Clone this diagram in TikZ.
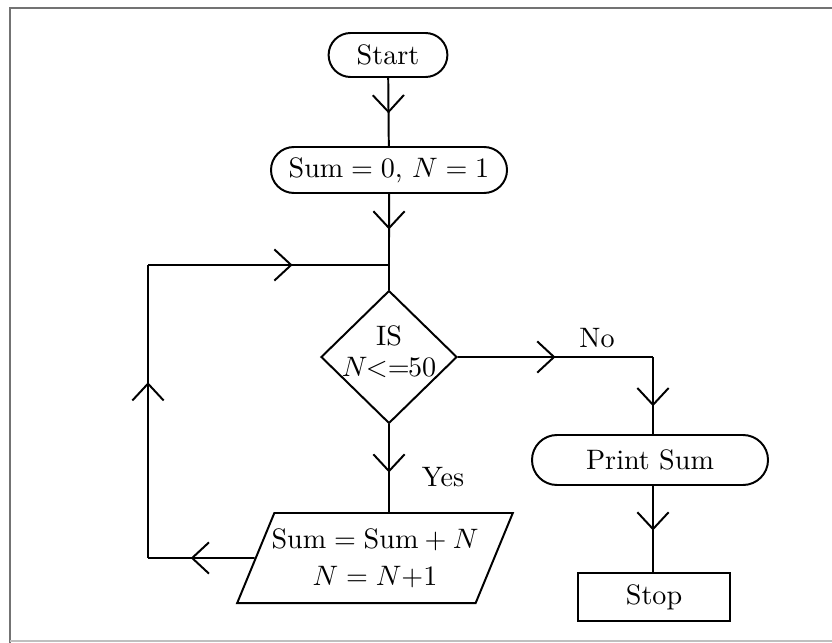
\documentclass[tikz,border=0pt]{standalone}
\usepackage{amsmath}
\usetikzlibrary{arrows.meta,shapes.geometric,shapes.misc,decorations.markings}

\begin{document}
\begin{tikzpicture}[x=0.0125cm,y=-0.0125cm,line width=0.7pt,
    term/.style={draw,rounded rectangle,inner sep=2pt},
    decision/.style={draw,diamond,minimum width=1.7cm,minimum height=1.66cm,
      inner sep=-3pt,align=center},
    io/.style={draw,trapezium,trapezium left angle=60,trapezium right angle=120,
      trapezium stretches=true,minimum width=3.31cm,minimum height=1.125cm,
      inner ysep=1pt,inner xsep=-1pt,align=center},
    stopbox/.style={draw,rectangle,minimum width=1.89cm,minimum height=0.61cm},
    midarrow/.style={postaction={decorate},decoration={markings,
      mark=at position #1 with {\arrow{Straight Barb[length=2.1mm,width=3.9mm]}}}},
    midarrow/.default=0.5]
  \useasboundingbox (0,0) rectangle (832,643);

  % frame
  \draw[black!55] (832,8) -- (10,8) -- (10,643);
  \draw[black!25] (10,641) -- (832,641);

  % nodes
  \node[term,minimum width=1.625cm,minimum height=0.55cm] (start) at (388,55) {Start};
  \node[term,minimum width=3.09cm,minimum height=0.575cm] (init) at (389,170)
    {Sum${}=0$, $N=1$};
  \node[decision] (test) at (389,357)
    {IS\\[-1pt]$N\mkern-1mu{<}{=}\mkern-1mu50$\rule[-4pt]{0pt}{4pt}};
  \node[io] (update) at (375,558) {Sum${}={}$Sum${}+N$\\[1pt]$N=N{+}1$};
  \node[term,minimum width=3.09cm,minimum height=0.625cm] (print) at (650,460) {Print Sum};
  \node[stopbox] (stop) at (654,597) {Stop};

  \coordinate (join) at (389,265);
  \coordinate (lt) at (148,265);
  \coordinate (lb) at (148,558);
  \coordinate (nc) at (653,357);

  % connectors
  \draw[midarrow=0.52] (start) -- (init);
  \draw[midarrow] (init) -- (join);
  \draw (join) -- (test.north);
  \draw[midarrow=0.55] (test.south) -- (update.north -| test.south);
  \draw[midarrow=0.6] (update.west) -- (lb);
  \draw[midarrow=0.6] (lb) -- (lt);
  \draw[midarrow=0.6] (lt) -- (join);
  \draw[midarrow] (test.east) -- (nc);
  \draw[midarrow=0.64] (nc) -- (print.north -| nc);
  \draw[midarrow=0.52] (print.south -| nc) -- (stop.north -| nc);

  % labels
  \node (no) at (597,338) {No};
  \node (yes) at (443,477) {Yes};
\end{tikzpicture}
\end{document}
